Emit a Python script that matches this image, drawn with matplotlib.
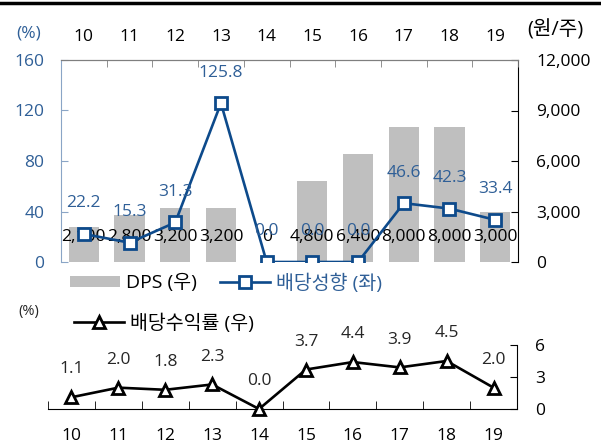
import numpy as np
import matplotlib
matplotlib.use("Agg")
import matplotlib.pyplot as plt
from matplotlib.lines import Line2D

plt.rcParams['font.family'] = ['Open Sans', 'Noto Sans CJK KR', 'DejaVu Sans']

# data
years = ['10', '11', '12', '13', '14', '15', '16', '17', '18', '19']
dps = [2100, 2800, 3200, 3200, 0, 4800, 6400, 8000, 8000, 3000]
payout = [22.2, 15.3, 31.3, 125.8, 0.0, 0.0, 0.0, 46.6, 42.3, 33.4]
div_yield = [1.1, 2.0, 1.8, 2.3, 0.0, 3.7, 4.4, 3.9, 4.5, 2.0]

BLUE = '#0d4a8b'
LBLUE = '#2f5f97'
GREY = '#bfbfbf'
FS = 12.5   # numbers
KFS = 14    # korean texts

W, H = 601, 447
fig = plt.figure(figsize=(W / 100, H / 100), dpi=100)

def box(l, t, r, b):
    return [l / W, 1 - b / H, (r - l) / W, (b - t) / H]

x = np.arange(len(years))

# ---- top chart: payout ratio (left) + DPS bars (right)
ax = fig.add_axes(box(61, 60, 518, 262))
axb = ax.twinx()
axb.set_zorder(ax.get_zorder() - 1)
ax.patch.set_visible(False)

bars = axb.bar(x, dps, width=0.66, color=GREY, zorder=1)
for i, v in enumerate(dps):
    axb.annotate(f'{v:,}', xy=(i, 0), xytext=(0, 18), textcoords='offset points',
                 ha='center', va='center', color='black', fontsize=FS)

ln, = ax.plot(x, payout, color=BLUE, lw=1.9, marker='s', ms=8.5,
              mfc='white', mec=BLUE, mew=2, zorder=3)
for i, v in enumerate(payout):
    ax.annotate(f'{v:.1f}', xy=(i, v), xytext=(0, 22), textcoords='offset points',
                ha='center', va='center', color=LBLUE, fontsize=FS)

ax.set_xlim(-0.5, len(years) - 0.5)
ax.set_ylim(0, 160)
axb.set_ylim(0, 12000)
ax.set_yticks([0, 40, 80, 120, 160])
axb.set_yticks([0, 3000, 6000, 9000, 12000])
axb.set_yticklabels([f'{v:,}' for v in [0, 3000, 6000, 9000, 12000]])

ax.xaxis.tick_top()
ax.set_xticks(x)
ax.set_xticklabels(years)
ax.set_xticks(np.arange(-0.5, len(years)), minor=True)
ax.tick_params(axis='x', which='major', length=0, pad=11, labelsize=FS)
ax.tick_params(axis='x', which='minor', direction='in', length=5, color='#7f7f7f')
ax.tick_params(axis='y', direction='in', length=5, color='#8aa5c6',
               labelcolor=LBLUE, pad=12, labelsize=FS)
axb.tick_params(axis='y', direction='in', length=5, color='black', pad=13, labelsize=FS)
axb.tick_params(axis='x', length=0)

for a in (ax, axb):
    a.spines['bottom'].set_visible(False)
    a.spines['top'].set_color('#7f7f7f')
    a.spines['left'].set_visible(False)
    a.spines['right'].set_visible(False)
ax.spines['left'].set_visible(True)
ax.spines['left'].set_color('#8aa5c6')
axb.spines['right'].set_visible(True)
axb.spines['right'].set_color('black')

fig.text(29 / W, 1 - 33 / H, '(%)', color=LBLUE, ha='center', va='center', fontsize=FS)
fig.text(555 / W, 1 - 30 / H, '(원/주)', color='black', ha='center', va='center', fontsize=14.5)

leg1 = fig.legend([bars], ['DPS (우)'], loc='center left',
                  bbox_to_anchor=(62 / W, 1 - 283 / H), frameon=False,
                  handlelength=2.6, handleheight=0.5, handletextpad=0.3,
                  borderaxespad=0, fontsize=KFS)
leg2 = fig.legend([ln], ['배당성향 (좌)'], loc='center left',
                  bbox_to_anchor=(212 / W, 1 - 283 / H), frameon=False,
                  handlelength=2.6, handletextpad=0.3, borderaxespad=0, fontsize=KFS)
for t in leg2.get_texts():
    t.set_color(LBLUE)

# ---- bottom chart: dividend yield
ax3 = fig.add_axes(box(48, 345, 517, 409))
tri, = ax3.plot(x, div_yield, color='black', lw=1.9, marker='^', ms=9,
                mfc='white', mec='black', mew=2, clip_on=False, zorder=3)
for i, v in enumerate(div_yield):
    ax3.annotate(f'{v:.1f}', xy=(i, v), xytext=(0, 20), textcoords='offset points',
                 ha='center', va='center', color='#262626', fontsize=FS)
ax3.set_xlim(-0.5, len(years) - 0.5)
ax3.set_ylim(0, 6)
ax3.set_xticks(x)
ax3.set_xticklabels(years)
ax3.set_xticks(np.arange(-0.5, len(years)), minor=True)
ax3.tick_params(axis='x', which='major', length=0, pad=14, labelsize=FS)
ax3.tick_params(axis='x', which='minor', direction='in', length=6, color='black')
ax3.yaxis.tick_right()
ax3.set_yticks([0, 3, 6])
ax3.tick_params(axis='y', direction='in', length=5, pad=13, labelsize=FS)
ax3.spines['top'].set_visible(False)
ax3.spines['left'].set_visible(False)
ax3.patch.set_visible(False)

fig.text(29 / W, 1 - 312 / H, '(%)', color='#262626', ha='center', va='center', fontsize=10.5)
fig.legend([tri], ['배당수익률 (우)'], loc='center left',
           bbox_to_anchor=(66 / W, 1 - 323 / H), frameon=False,
           handlelength=2.6, handletextpad=0.3, borderaxespad=0, fontsize=KFS)

# top border
fig.add_artist(Line2D([0, 1], [1 - 2.5 / H, 1 - 2.5 / H], color='black', lw=2.5,
                      transform=fig.transFigure))

fig.savefig('out.png', dpi=100)
